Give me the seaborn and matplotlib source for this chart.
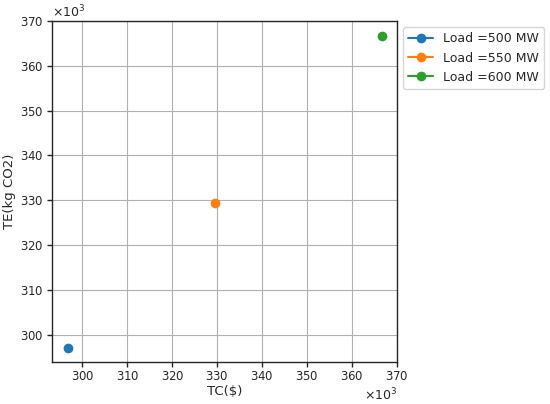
import numpy as np
import pandas as pd
import seaborn as sns
from matplotlib import pyplot as plt

sns.set_theme(style='ticks', rc={'axes.grid': True, 'grid.color': '#b0b0b0', 'grid.linewidth': 0.8})
plt.rcParams['font.family'] = ['DejaVu Sans']

# data (TC in $, TE in kg CO2)
loads = ['Load =500 MW', 'Load =550 MW', 'Load =600 MW']
tc = [296800, 329500, 366600]
te = [297100, 329400, 366600]

df = pd.DataFrame({'TC': tc, 'TE': te, 'load': loads})
colors = sns.color_palette('tab10', 3)

fig, ax = plt.subplots(figsize=(5.5, 4.04), dpi=100)
for i, row in df.iterrows():
    sns.lineplot(x=[row['TC']], y=[row['TE']], ax=ax, marker='o', markersize=7,
                 color=colors[i], label=row['load'], markeredgewidth=0)

ax.set_xlim(293300, 370000)
ax.set_ylim(293800, 370000)
ax.set_xticks(np.arange(300000, 370001, 10000))
ax.set_yticks(np.arange(300000, 370001, 10000))
ax.ticklabel_format(style='sci', axis='both', scilimits=(3, 3), useMathText=True)
ax.tick_params(labelsize=8.5, length=3.5, width=1, pad=2.5, color='#262626')
ax.tick_params(axis='x', pad=1.8)
ax.xaxis.get_offset_text().set_fontsize(9)
ax.yaxis.get_offset_text().set_fontsize(9)
for s in ax.spines.values():
    s.set_color('#262626')
    s.set_linewidth(1.0)
ax.set_xlabel('TC($)', fontsize=9.5)
ax.set_ylabel('TE(kg CO2)', fontsize=9.5)
ax.xaxis.set_label_coords(0.5, -0.066)
ax.yaxis.set_label_coords(-0.105, 0.5)
ax.legend(loc='upper left', bbox_to_anchor=(1.0, 1.0), fontsize=9)

plt.subplots_adjust(left=0.095, right=0.722, top=0.948, bottom=0.103)
plt.savefig('out.png', dpi=100)
